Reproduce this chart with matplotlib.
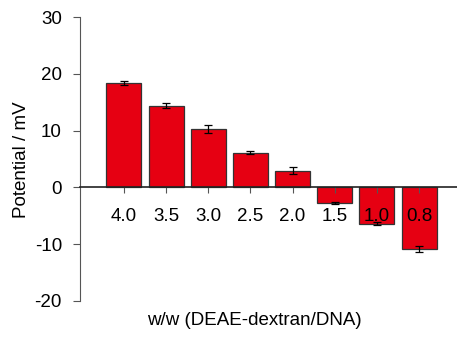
import matplotlib.pyplot as plt
import numpy as np

plt.rcParams['font.family'] = ['Liberation Sans', 'DejaVu Sans']
plt.rcParams['axes.unicode_minus'] = False

ratios = ['4.0', '3.5', '3.0', '2.5', '2.0', '1.5', '1.0', '0.8']
potential = [18.4, 14.4, 10.3, 6.1, 2.9, -2.7, -6.4, -10.9]
errors = [0.3, 0.4, 0.65, 0.3, 0.6, 0.2, 0.3, 0.5]

fig = plt.figure(figsize=(4.57, 3.4), dpi=100)
ax = fig.add_axes([0.175, 0.115, 0.825, 0.835])

x = np.arange(len(ratios))
ax.bar(x, potential, width=0.83, color='#e60012', edgecolor='#333333', linewidth=0.9,
       yerr=errors, capsize=3, error_kw=dict(ecolor='black', elinewidth=0.9, capthick=0.9))

ax.set_xlim(-1.04, 7.9)
ax.set_ylim(-20, 30)
ax.set_yticks([-20, -10, 0, 10, 20, 30])
ax.set_xticks(x)
ax.set_xticklabels(ratios)
ax.tick_params(axis='y', labelsize=13.5, length=5, width=0.8, color='#555555', pad=8)
ax.tick_params(axis='x', labelsize=13.5, length=4, width=0.8, color='#555555', pad=11)

ax.spines['top'].set_visible(False)
ax.spines['right'].set_visible(False)
ax.spines['bottom'].set_position(('data', 0))
ax.spines['bottom'].set_linewidth(1.2)
ax.spines['bottom'].set_color('#222222')
ax.spines['left'].set_color('#555555')
ax.spines['left'].set_linewidth(0.8)

fig.text(0.046, 0.53, 'Potential / mV', fontsize=13.5, rotation=90, ha='center', va='center')
fig.text(0.557, 0.056, 'w/w (DEAE-dextran/DNA)', fontsize=13.5, ha='center', va='center')

fig.savefig('out.png', dpi=100)
